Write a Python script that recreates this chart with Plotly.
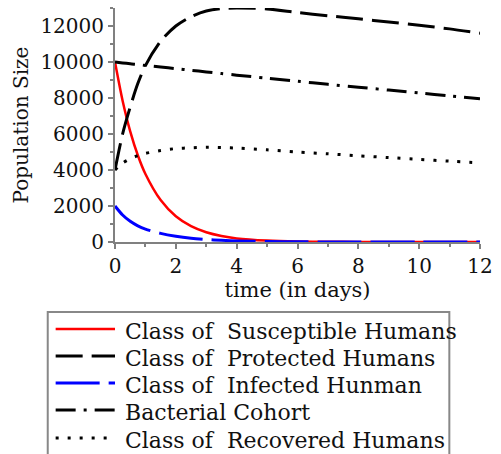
import plotly.graph_objects as go

# time grid (days)
t = [0, 0.25, 0.5, 0.75, 1, 1.5, 2, 2.5, 3, 3.5, 4, 5, 6, 7, 8, 9, 10, 11, 12]

susceptible = [10000, 7850, 6150, 4820, 3780, 2330, 1430, 880, 540, 330, 200, 80, 30, 12, 5, 2, 1, 0.3, 0.1]
protected = [4000, 6000, 7500, 8800, 9800, 11150, 12000, 12520, 12830, 12970, 13000, 12950, 12750, 12570, 12400, 12220, 12040, 11840, 11600]
infected = [2000, 1500, 1150, 900, 720, 480, 320, 210, 140, 95, 60, 25, 10, 4, 2, 1, 0.3, 0.1, 0]
bacteria = [10000, 9950, 9900, 9860, 9810, 9720, 9630, 9540, 9450, 9360, 9270, 9100, 8930, 8760, 8600, 8440, 8280, 8120, 7960]
recovered = [4000, 4380, 4620, 4800, 4920, 5080, 5190, 5230, 5260, 5250, 5220, 5120, 5000, 4900, 4790, 4690, 4590, 4490, 4400]

labels = [
    "Class of\u00a0\u00a0Susceptible Humans",
    "Class of\u00a0\u00a0Protected Humans",
    "Class of\u00a0\u00a0Infected Hunman",
    "Bacterial Cohort",
    "Class of\u00a0\u00a0Recovered Humans",
]

styles = [
    dict(color="#ff0000", width=2.5, dash="solid"),
    dict(color="#000000", width=3, dash="27px,9px"),
    dict(color="#0000ff", width=3, dash="44px,9px"),
    dict(color="#000000", width=3, dash="20px,8px,3px,8px"),
    dict(color="#000000", width=3, dash="3px,9px"),
]

series = [susceptible, protected, infected, bacteria, recovered]

FONT = "DejaVu Serif"
TEXT = "#111111"

fig = go.Figure()
for ys, st, name in zip(series, styles, labels):
    fig.add_trace(go.Scatter(
        x=t, y=ys, mode="lines", name=name, showlegend=False,
        line=dict(color=st["color"], width=st["width"], dash=st["dash"],
                  shape="spline", smoothing=0.8),
    ))

# plot area geometry in pixels
W, H = 501, 454
L, R, T, B = 115, 17, 8, 212
pw, ph = W - L - R, H - T - B

def px_x(x):
    return (x - L) / pw

def px_y(y):
    return (H - B - y) / ph

# legend box drawn below the axes
shapes = [dict(type="rect", xref="paper", yref="paper",
               x0=px_x(47), x1=px_x(453), y0=px_y(458), y1=px_y(312),
               line=dict(color="#888888", width=2), fillcolor="rgba(0,0,0,0)")]
annotations = []
row_y = [331, 358, 385, 412, 440]
for st, name, ry in zip(styles, labels, row_y):
    shapes.append(dict(type="line", xref="paper", yref="paper",
                       x0=px_x(55), x1=px_x(115), y0=px_y(ry - 2), y1=px_y(ry - 2),
                       line=dict(color=st["color"], width=st["width"], dash=st["dash"])))
    annotations.append(dict(xref="paper", yref="paper", x=px_x(123), y=px_y(ry),
                            xanchor="left", yanchor="middle", showarrow=False,
                            text=name, font=dict(family=FONT, size=22, color=TEXT)))

axis_common = dict(
    showline=True, linecolor="#808080", linewidth=2,
    ticks="outside", ticklen=5, tickwidth=1.5, tickcolor="#808080",
    showgrid=False, zeroline=False,
    tickfont=dict(family=FONT, size=20, color=TEXT),
)

fig.update_layout(
    width=W, height=H,
    margin=dict(l=L, r=R, t=T, b=B),
    font=dict(family=FONT, size=20, color=TEXT),
    plot_bgcolor="white", paper_bgcolor="white",
    shapes=shapes, annotations=annotations,
    xaxis=dict(range=[0, 12], dtick=2, tick0=0,
               minor=dict(dtick=1, ticks="outside", ticklen=3, tickcolor="#808080"),
               title=dict(text="time (in days)", font=dict(family=FONT, size=21, color=TEXT),
                          standoff=4),
               **axis_common),
    yaxis=dict(range=[0, 13000], dtick=2000, tick0=0, tickformat="d",
               minor=dict(dtick=1000, ticks="outside", ticklen=3, tickcolor="#808080"),
               title=dict(text="Population Size", font=dict(family=FONT, size=20, color=TEXT),
                          standoff=6),
               **axis_common),
)

fig.write_html("out.html")
